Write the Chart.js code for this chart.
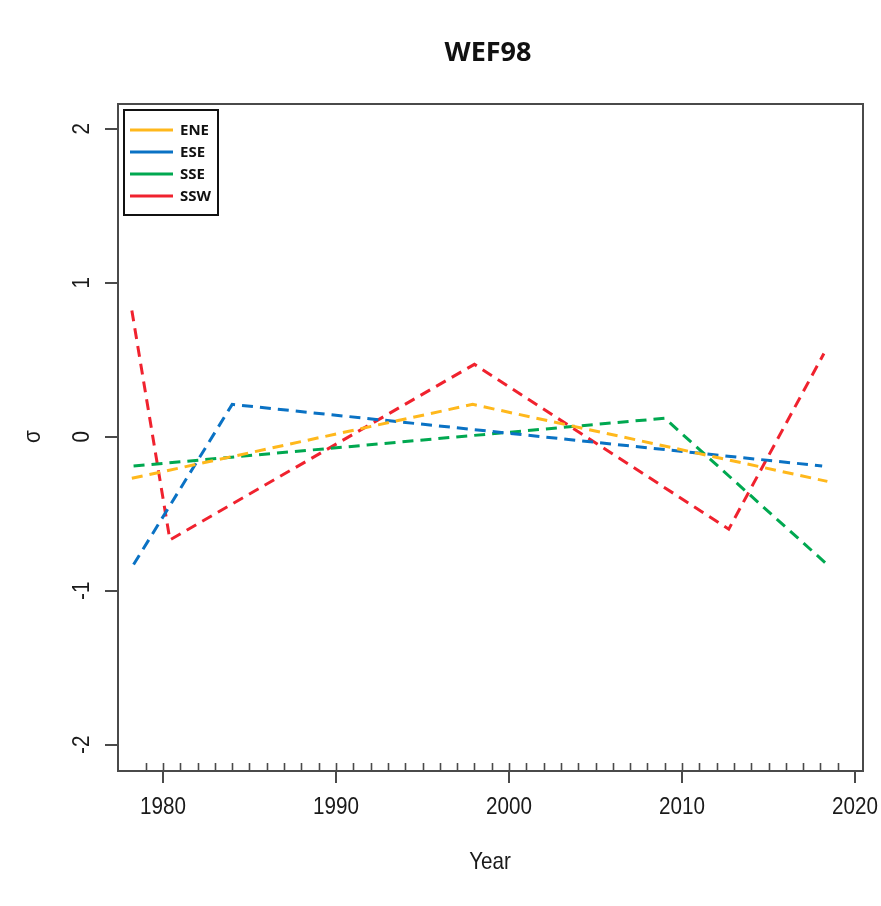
<!DOCTYPE html>
<html>
<head>
<meta charset="utf-8">
<script src="https://cdn.jsdelivr.net/npm/chart.js@4.4.0/dist/chart.umd.min.js"></script>
<style>
  html, body { margin: 0; padding: 0; background: #fff; }
  #wrap { width: 881px; height: 906px; }
</style>
</head>
<body>
<div id="wrap"><canvas id="wef-chart" width="881" height="906"></canvas></div>
<script>
// ── Data ────────────────────────────────────────────
const chartTitle = 'WEF98';
const xLabel = 'Year';
const yLabel = 'σ';

const seriesNames  = ['ENE', 'ESE', 'SSE', 'SSW'];
const seriesColors = ['#ffb81c', '#0a72c4', '#00a850', '#f0222e'];

const eneYears  = [1978.2, 1997.9, 2018.4];
const eneValues = [-0.27, 0.21, -0.29];

const eseYears  = [1978.3, 1984.0, 2018.1];
const eseValues = [-0.83, 0.21, -0.19];

const sseYears  = [1978.3, 2009.0, 2018.3];
const sseValues = [-0.19, 0.12, -0.82];

const sswYears  = [1978.2, 1980.4, 1998.0, 2012.7, 2018.2];
const sswValues = [0.82, -0.67, 0.47, -0.60, 0.54];

const xMajorTicks = [1980, 1990, 2000, 2010, 2020];
const yTicks = [-2, -1, 0, 1, 2];

// ── Helpers ─────────────────────────────────────────
function toPoints(xs, ys) {
    return xs.map((x, i) => ({ x: x, y: ys[i] }));
}

// condensed text, like the squeezed R export
function squeezedText(ctx, text, x, y, angle) {
    ctx.save();
    ctx.translate(x, y);
    if (angle) ctx.rotate(angle);
    ctx.scale(0.86, 1);
    ctx.fillText(text, 0, 0);
    ctx.restore();
}

const seriesData = [
    toPoints(eneYears, eneValues),
    toPoints(eseYears, eseValues),
    toPoints(sseYears, sseValues),
    toPoints(sswYears, sswValues)
];

// ── R-style frame, axes, title and legend ───────────
const rFramePlugin = {
    id: 'rFrame',
    afterDraw(chart) {
        const ctx = chart.ctx;
        const area = chart.chartArea;
        const xs = chart.scales.x;
        const ys = chart.scales.y;
        const axisColor = '#4a4a4a';

        ctx.save();
        ctx.strokeStyle = axisColor;
        ctx.lineWidth = 2;
        ctx.strokeRect(area.left, area.top, area.right - area.left, area.bottom - area.top);

        // x minor ticks (inward), every year
        ctx.lineWidth = 1.6;
        ctx.beginPath();
        for (let yr = 1979; yr <= 2019; yr++) {
            const px = Math.round(xs.getPixelForValue(yr)) + 0.5;
            ctx.moveTo(px, area.bottom);
            ctx.lineTo(px, area.bottom - 8);
        }
        ctx.stroke();

        // x major ticks (outward)
        ctx.lineWidth = 2;
        ctx.beginPath();
        xMajorTicks.forEach(v => {
            const px = Math.round(xs.getPixelForValue(v));
            ctx.moveTo(px, area.bottom);
            ctx.lineTo(px, area.bottom + 12);
        });
        // y ticks (outward)
        yTicks.forEach(v => {
            const py = Math.round(ys.getPixelForValue(v));
            ctx.moveTo(area.left, py);
            ctx.lineTo(area.left - 13, py);
        });
        ctx.stroke();

        // tick labels
        ctx.fillStyle = '#1a1a1a';
        ctx.font = '24px "Liberation Sans", Arial, sans-serif';
        ctx.textAlign = 'center';
        ctx.textBaseline = 'middle';
        xMajorTicks.forEach(v => {
            squeezedText(ctx, String(v), xs.getPixelForValue(v), 807, 0);
        });
        yTicks.forEach(v => {
            squeezedText(ctx, String(v), 82, ys.getPixelForValue(v), -Math.PI / 2);
        });

        // axis titles
        squeezedText(ctx, xLabel, 490, 862, 0);
        squeezedText(ctx, yLabel, 33, ys.getPixelForValue(0), -Math.PI / 2);

        // main title
        ctx.fillStyle = '#111';
        ctx.font = 'bold 27px "Open Sans", sans-serif';
        ctx.fillText(chartTitle, 488, 53);

        // legend
        ctx.strokeStyle = '#111';
        ctx.lineWidth = 2;
        ctx.strokeRect(124, 110, 94, 105);
        ctx.font = 'bold 15px "Open Sans", sans-serif';
        ctx.textAlign = 'left';
        seriesNames.forEach((name, i) => {
            const ly = 130 + i * 22;
            ctx.strokeStyle = seriesColors[i];
            ctx.lineWidth = 3;
            ctx.beginPath();
            ctx.moveTo(130, ly);
            ctx.lineTo(173, ly);
            ctx.stroke();
            ctx.fillStyle = '#111';
            ctx.fillText(name, 180, ly + 1);
        });
        ctx.restore();
    }
};

// ── Build Chart ─────────────────────────────────────
new Chart(document.getElementById('wef-chart'), {
    type: 'line',
    data: {
        datasets: seriesNames.map((name, i) => ({
            label: name,
            data: seriesData[i],
            borderColor: seriesColors[i],
            borderWidth: 3,
            borderDash: [11, 7],
            pointRadius: 0,
            fill: false,
            tension: 0
        }))
    },
    options: {
        responsive: false,
        animation: false,
        devicePixelRatio: 1,
        layout: { padding: { left: 118, right: 18, top: 104, bottom: 135 } },
        plugins: {
            legend: { display: false },
            title: { display: false },
            tooltip: { enabled: false }
        },
        scales: {
            x: { type: 'linear', min: 1977.4, max: 2020.46, display: false },
            y: { type: 'linear', min: -2.17, max: 2.16, display: false }
        }
    },
    plugins: [rFramePlugin]
});
</script>
</body>
</html>
